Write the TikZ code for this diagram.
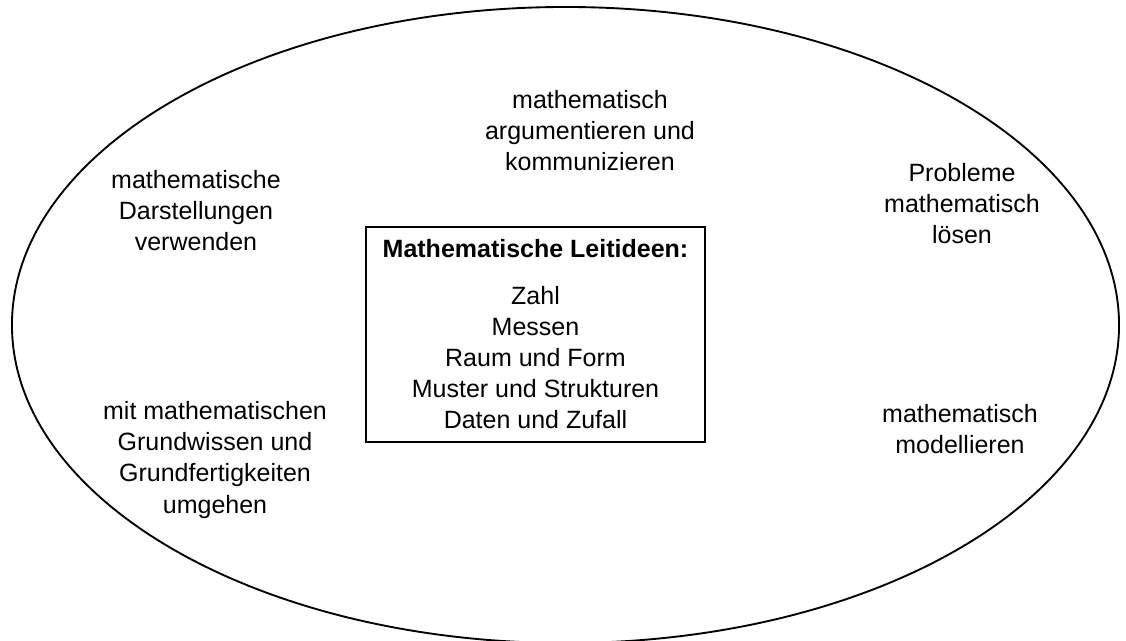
\documentclass[tikz,border=0pt]{standalone}
\usepackage{fontspec}
\setmainfont{Liberation Sans}
\usetikzlibrary{positioning, shapes.geometric}
\tikzset{
  lbl/.style={align=center, font=\fontsize{12}{14.9}\selectfont, inner sep=0pt},
  leitbox/.style={draw, line width=0.9pt, align=center, inner sep=0pt,
                  minimum width=162.5pt, minimum height=103.5pt,
                  font=\fontsize{12}{14.9}\selectfont},
  rand/.style={draw, ellipse, line width=0.9pt, inner sep=0pt},
}
\begin{document}
\begin{tikzpicture}[x=0.48pt, y=-0.48pt]
  \useasboundingbox (0,0) rectangle (1126,641);

  % outer ellipse of process competences
  \node[rand, minimum width=531.4pt, minimum height=305.3pt] (kreis) at (565.5,325) {};

  % content ideas in the middle
  \node[leitbox] (leit) at (535.5,334.5) {\textbf{Mathematische Leitideen:}\\[7.6pt]
    Zahl\\ Messen\\ Raum und Form\\ Muster und Strukturen\\ Daten und Zufall};

  \node[lbl] (argu) at (590,131) {mathematisch\\ argumentieren und\\ kommunizieren};
  \node[lbl] (darst) at (196,211) {mathematische\\ Darstellungen\\ verwenden};
  \node[lbl] (probl) at (962,204) {Probleme\\ mathematisch\\ lösen};
  \node[lbl] (grund) at (215,460) {mit mathematischen\\ Grundwissen und\\ Grundfertigkeiten\\ umgehen};
  \node[lbl] (model) at (960,429) {mathematisch\\ modellieren};

\end{tikzpicture}
\end{document}
